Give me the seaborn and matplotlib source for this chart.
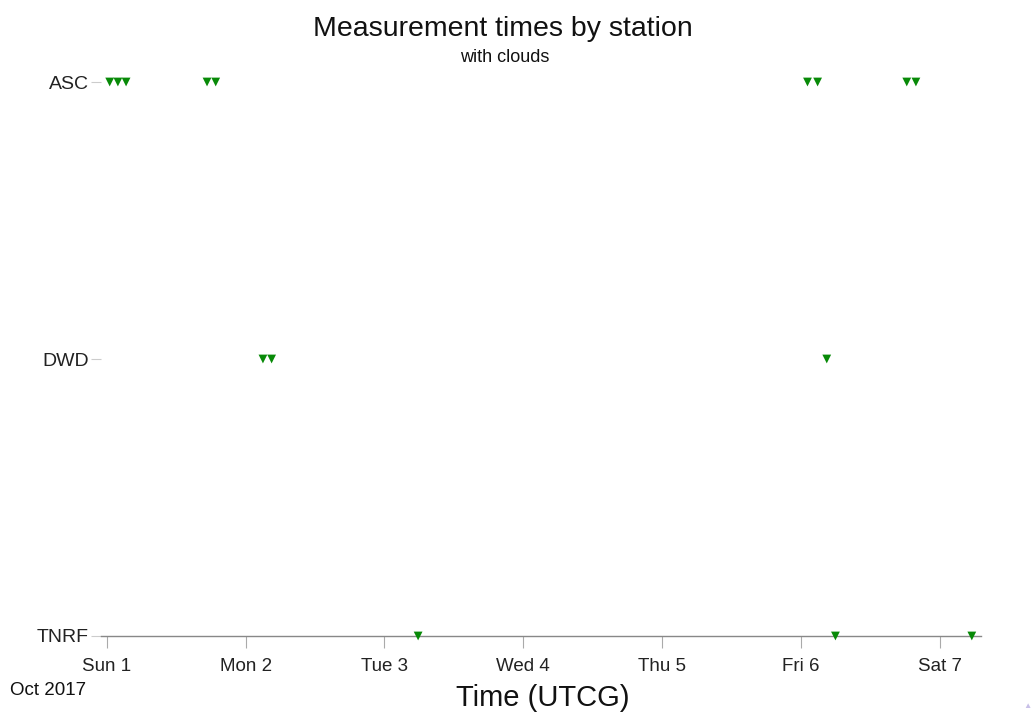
import matplotlib
matplotlib.use("Agg")
import matplotlib.pyplot as plt
import matplotlib.dates as mdates
import seaborn as sns
import pandas as pd

stations = ["ASC", "DWD", "TNRF"]
asc_times = ["2017-10-01 00:30", "2017-10-01 01:55", "2017-10-01 03:20",
             "2017-10-01 17:20", "2017-10-01 18:50",
             "2017-10-06 01:10", "2017-10-06 02:55",
             "2017-10-06 18:20", "2017-10-06 19:55"]
dwd_times = ["2017-10-02 03:00", "2017-10-02 04:30", "2017-10-06 04:30"]
tnrf_times = ["2017-10-03 05:50", "2017-10-06 06:00", "2017-10-07 05:35"]
x_range = ["2017-09-30 23:00", "2017-10-07 07:10"]

sns.set_theme(style="white")
plt.rcParams['font.family'] = ['Liberation Sans', 'DejaVu Sans']

rows = []
for st, times in zip(stations, [asc_times, dwd_times, tnrf_times]):
    for t in times:
        rows.append({"station": st, "time": pd.Timestamp(t)})
df = pd.DataFrame(rows)
ypos = {st: len(stations) - 1 - i for i, st in enumerate(stations)}
df["y"] = df["station"].map(ypos)

fig = plt.figure(figsize=(10.35, 7.15), dpi=100)
ax = fig.add_axes([0.0976, 0.1105, 0.8502, 0.7748])

sns.scatterplot(data=df, x="time", y="y", marker="v", color="#088a08",
                edgecolor="none", s=40, ax=ax, clip_on=False, zorder=5)

ax.set_xlim(pd.Timestamp(x_range[0]), pd.Timestamp(x_range[1]))
ax.set_ylim(0, len(stations) - 1)
ax.set_yticks([ypos[s] for s in stations])
ax.set_yticklabels(stations, fontsize=14, color="#222222")
ax.xaxis.set_major_locator(mdates.DayLocator())
ax.xaxis.set_major_formatter(mdates.DateFormatter("%a %-d"))
for lab in ax.get_xticklabels():
    lab.set_fontsize(13.5)
    lab.set_color("#222222")

for sp in ["top", "right", "left"]:
    ax.spines[sp].set_visible(False)
ax.spines["bottom"].set_color("#888888")
ax.spines["bottom"].set_linewidth(1.0)
ax.tick_params(axis="x", which="major", direction="out", length=8.5, width=0.8,
               color="#aaaaaa", bottom=True, pad=7)
ax.tick_params(axis="y", which="major", direction="out", length=7.5, width=0.8,
               color="#cccccc", left=True, pad=1.5)
ax.set_xlabel("")
ax.set_ylabel("")
ax.grid(False)

fig.text(0.486, 0.960, "Measurement times by station", ha="center", va="center",
         fontsize=20.5, color="#111111")
fig.text(0.488, 0.919, "with clouds", ha="center", va="center",
         fontsize=13, color="#111111")
fig.text(0.524, 0.024, "Time (UTCG)", ha="center", va="center",
         fontsize=21, color="#111111")
fig.text(0.0095, 0.034, "Oct 2017", ha="left", va="center",
         fontsize=13.5, color="#111111")
fig.text(0.993, 0.012, "\u25b2", ha="center", va="center", fontsize=6,
         color="#c8c0e8")

fig.savefig("out.png", dpi=100)
